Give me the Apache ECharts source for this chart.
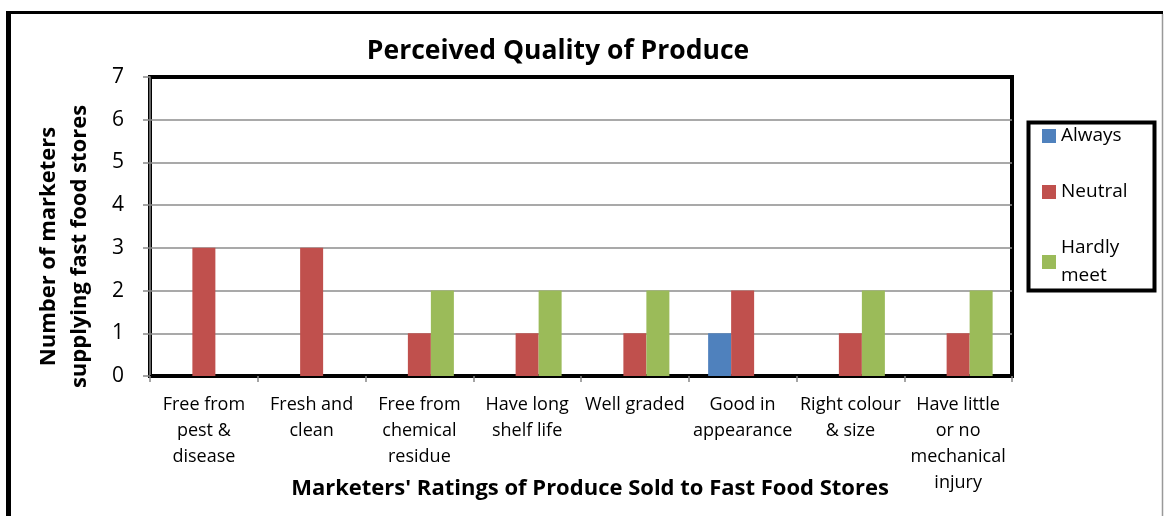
<!DOCTYPE html>
<html>
<head>
<meta charset="utf-8">
<script src="https://cdn.jsdelivr.net/npm/echarts@6/dist/echarts.min.js"></script>
<style>
html,body{margin:0;padding:0;background:#fff;}
#chart{width:1164px;height:516px;}
</style>
</head>
<body>
<div id="chart"></div>
<script>
const categories = [
  "Free from\npest &\ndisease",
  "Fresh and\nclean",
  "Free from\nchemical\nresidue",
  "Have long\nshelf life",
  "Well graded",
  "Good in\nappearance",
  "Right colour\n& size",
  "Have little\nor no\nmechanical\ninjury"
];
const seriesNames = ["Always", "Neutral", "Hardly meet"];
const always = [0, 0, 0, 0, 0, 1, 0, 0];
const neutral = [3, 3, 1, 1, 1, 2, 1, 1];
const hardlyMeet = [0, 0, 2, 2, 2, 0, 2, 2];
const colors = ["#4F81BD", "#C0504D", "#9BBB59"];

const FONT = "'Open Sans', Lato, sans-serif";
const chart = echarts.init(document.getElementById('chart'));
const values = [always, neutral, hardlyMeet];

chart.setOption({
  animation: false,
  backgroundColor: '#fff',
  textStyle: { fontFamily: FONT },
  title: {
    text: 'Perceived Quality of Produce',
    left: 553, top: 33, textAlign: 'center',
    textStyle: { fontFamily: FONT, fontSize: 26.5, fontWeight: 'bold', color: '#000' }
  },
  grid: {
    left: 150, top: 77, right: 152, bottom: 140,
    outerBoundsMode: 'none',
    containLabel: false,
    show: true, borderColor: '#000', borderWidth: 4
  },
  legend: {
    orient: 'vertical',
    left: 1038, top: 121,
    padding: [1, 4, 1, 4],
    itemWidth: 14, itemHeight: 14,
    itemGap: 28,
    icon: 'rect',
    data: seriesNames.map(function (n) {
      return { name: n };
    }),
    formatter: function (n) { return n === 'Hardly meet' ? 'Hardly\nmeet' : n; },
    textStyle: { fontFamily: FONT, fontSize: 19, color: '#000', lineHeight: 28 }
  },
  xAxis: {
    type: 'category',
    data: categories,
    name: "Marketers' Ratings of Produce Sold to Fast Food Stores",
    nameLocation: 'middle',
    nameGap: 102,
    nameMoveOverlap: false,
    nameTextStyle: { fontFamily: FONT, fontSize: 22, fontWeight: 'bold', color: '#000', padding: [0, 0, 0, 18] },
    axisLine: { lineStyle: { color: '#000', width: 3 } },
    axisTick: { show: true, length: 6, lineStyle: { color: '#888', width: 1.5 } },
    axisLabel: {
      interval: 0, margin: 16,
      fontFamily: FONT, fontSize: 18, color: '#000', lineHeight: 26
    }
  },
  yAxis: {
    type: 'value',
    min: 0, max: 7, interval: 1,
    name: 'Number of marketers\nsupplying fast food stores',
    nameLocation: 'middle',
    nameGap: 55,
    nameMoveOverlap: false,
    nameTextStyle: { fontFamily: FONT, fontSize: 22, fontWeight: 'bold', color: '#000', lineHeight: 31, padding: [0, 40, 0, 0] },
    axisLine: { show: true, lineStyle: { color: '#888', width: 1.5 } },
    axisTick: { show: true, length: 7, lineStyle: { color: '#888', width: 1.5 } },
    axisLabel: { margin: 26, fontFamily: FONT, fontSize: 21, color: '#000' },
    splitLine: { showMaxLine: false, lineStyle: { color: '#8c8c8c', width: 1.5 } }
  },
  series: seriesNames.map(function (n, i) {
    return {
      name: n, type: 'bar', data: values[i],
      barWidth: 23, barGap: '0%',
      itemStyle: { color: colors[i] }
    };
  }),
  graphic: [
    { type: 'line', shape: { x1: 8.5, y1: 11, x2: 8.5, y2: 516 }, style: { stroke: '#000', lineWidth: 5 }, z: 100 },
    { type: 'line', shape: { x1: 6, y1: 12.5, x2: 1163, y2: 12.5 }, style: { stroke: '#000', lineWidth: 3 }, z: 100 },
    { type: 'line', shape: { x1: 1162.5, y1: 14, x2: 1162.5, y2: 516 }, style: { stroke: '#999', lineWidth: 1.5 }, z: 100 },
    { type: 'rect', shape: { x: 1028.5, y: 122.5, width: 126, height: 168 }, style: { fill: 'none', stroke: '#000', lineWidth: 4 }, z: 100 }
  ]
});
</script>
</body>
</html>
